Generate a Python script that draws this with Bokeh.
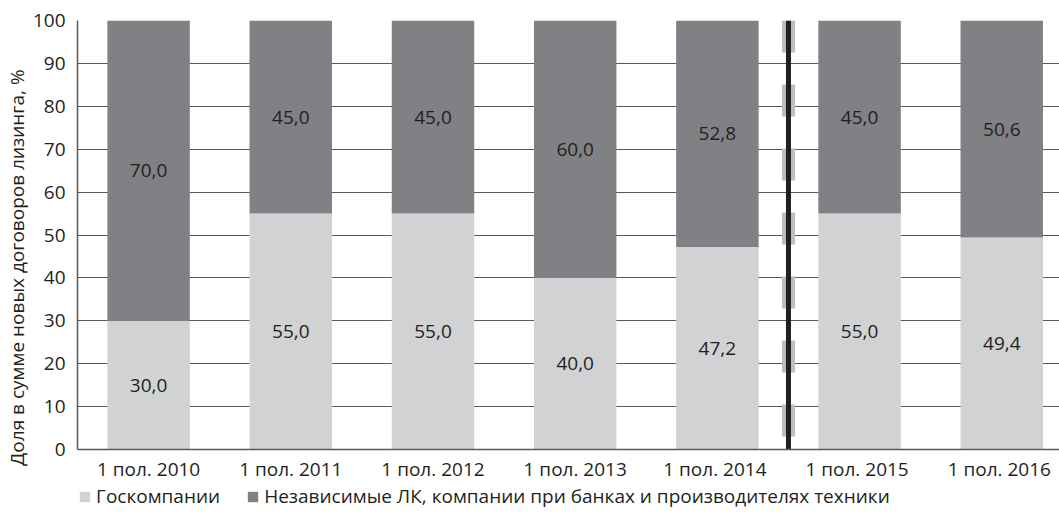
from bokeh.plotting import figure
from bokeh.models import ColumnDataSource, Range1d, FixedTicker, Legend, Title
from bokeh.embed import file_html
from bokeh.resources import INLINE
from bokeh.core.properties import value

periods = ["1 пол. 2010", "1 пол. 2011", "1 пол. 2012", "1 пол. 2013",
           "1 пол.  2014", "1 пол.  2015", "1 пол.  2016"]
gov = [30.0, 55.0, 55.0, 40.0, 47.2, 55.0, 49.4]
ind = [70.0, 45.0, 45.0, 60.0, 52.8, 45.0, 50.6]
series_names = ["Госкомпании",
                "Независимые ЛК, компании при банках и производителях техники"]
y_ticks = [0, 10, 20, 30, 40, 50, 60, 70, 80, 90, 100]
y_title = "Доля в сумме новых договоров лизинга, %"

LIGHT = "#d1d2d4"
DARK = "#808184"
TEXT = "#231f20"
FONT = "Open Sans"
FS = "19px"

xs = list(range(1, len(periods) + 1))
fmt = lambda v: f"{v:.1f}".replace(".", ",")

source = ColumnDataSource(dict(
    x=xs, gov=gov, ind=ind,
    gov_y=[g / 2 for g in gov],
    ind_y=[g + i / 2 for g, i in zip(gov, ind)],
    gov_t=[fmt(v) for v in gov],
    ind_t=[fmt(v) for v in ind],
))

# frame extends below zero to leave room for tick labels and legend
p = figure(width=1059, height=514, output_backend="svg", toolbar_location=None,
           x_range=Range1d(0.5, 7.406), y_range=Range1d(-15.15, 100),
           min_border_left=77, min_border_top=20, min_border_right=0,
           min_border_bottom=0)
p.outline_line_color = None
p.background_fill_color = "white"

renderers = p.vbar_stack(["gov", "ind"], x="x", width=0.58, color=[LIGHT, DARK],
                         line_color=None, source=source)

p.text(x="x", y="gov_y", text="gov_t", source=source, text_align="center",
       text_baseline="middle", text_font=value(FONT), text_font_size=FS,
       text_color=TEXT)
p.text(x="x", y="ind_y", text="ind_t", source=source, text_align="center",
       text_baseline="middle", text_font=value(FONT), text_font_size=FS,
       text_color=TEXT)

divider = (xs[4] + xs[5]) / 2
p.segment(x0=[divider], y0=[y_ticks[-1]], x1=[divider], y1=[y_ticks[0]],
          line_color="#bcbec0", line_width=13, line_dash="32 32", line_cap="butt")
p.segment(x0=[divider], y0=[y_ticks[-1]], x1=[divider], y1=[y_ticks[0]],
          line_color=TEXT, line_width=5)

p.xgrid.grid_line_color = None
p.ygrid.ticker = FixedTicker(ticks=y_ticks)
p.ygrid.grid_line_color = "#58595b"
p.ygrid.grid_line_width = 1.2

p.yaxis.ticker = FixedTicker(ticks=y_ticks)
p.yaxis.bounds = (y_ticks[0], y_ticks[-1])
p.xaxis.ticker = FixedTicker(ticks=xs)
p.xaxis.major_label_overrides = {x: lab for x, lab in zip(xs, periods)}
p.xaxis.fixed_location = y_ticks[0]

for ax in (p.xaxis[0], p.yaxis[0]):
    ax.axis_line_color = "#58595b"
    ax.axis_line_width = 1.5
    ax.major_tick_line_color = None
    ax.minor_tick_line_color = None
    ax.major_label_text_font = FONT
    ax.major_label_text_font_size = FS
    ax.major_label_text_color = TEXT
p.xaxis.major_label_standoff = 0
p.yaxis.major_label_standoff = 6

p.add_layout(Title(text=y_title, align="center", offset=50,
                   text_font=FONT, text_font_size=FS, text_font_style="normal",
                   text_color=TEXT, standoff=0), "left")

legend = Legend(items=[(series_names[0], [renderers[0]]), (series_names[1], [renderers[1]])],
                orientation="horizontal", location=(1, 5),
                border_line_color=None, background_fill_alpha=0,
                label_text_font=FONT, label_text_font_size=FS,
                label_text_color=TEXT, glyph_width=13, glyph_height=13,
                label_standoff=5, spacing=26, padding=1, margin=0,
                label_height=20)
p.add_layout(legend, "center")

open("out.html", "w").write(file_html(p, INLINE))
